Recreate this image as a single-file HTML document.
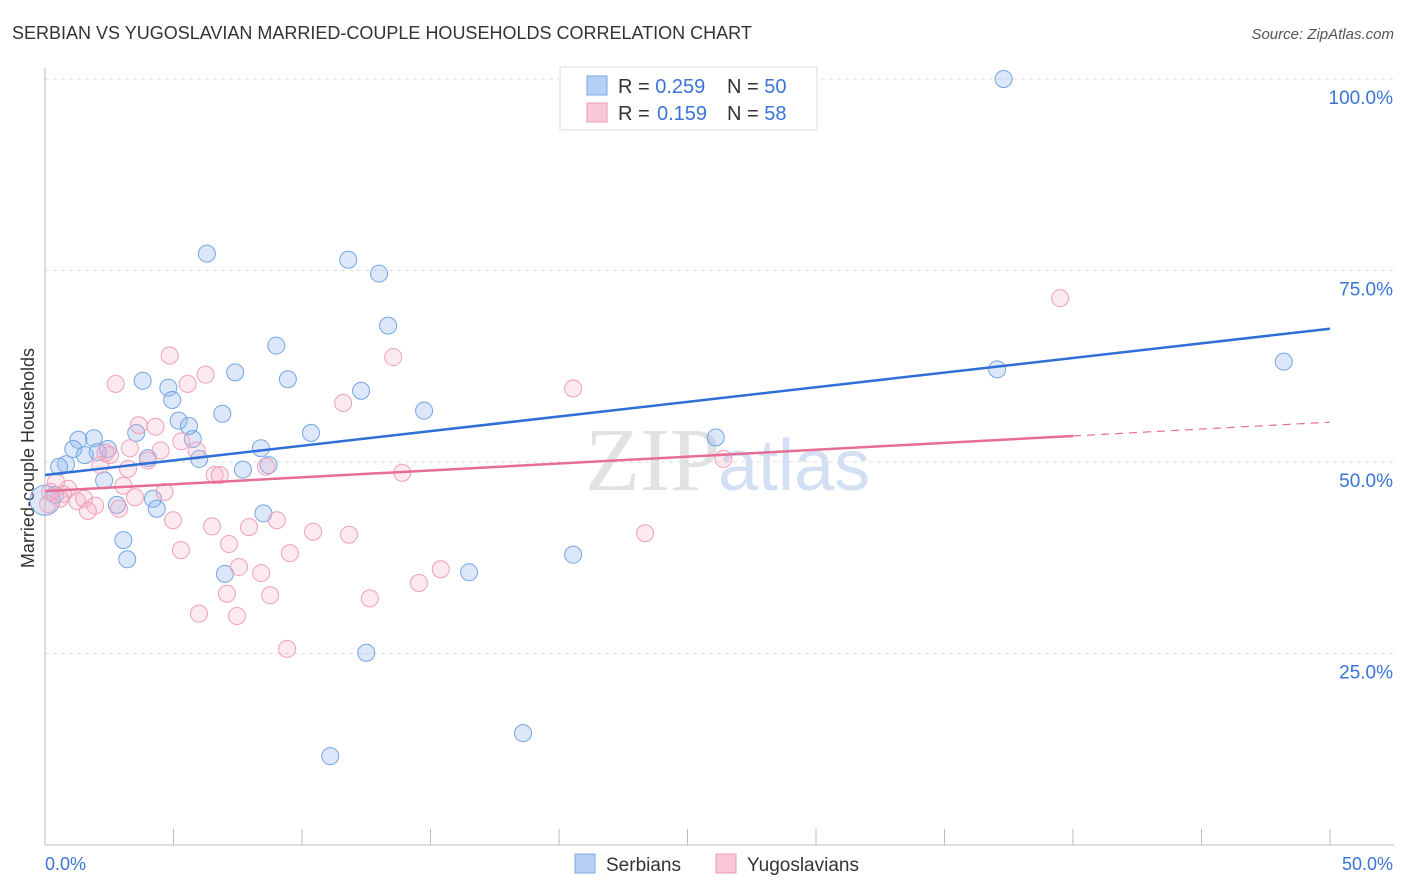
<!DOCTYPE html>
<html><head><meta charset="utf-8"><style>
body{margin:0;background:#fff;font-family:"Liberation Sans",sans-serif;}
svg{display:block}
</style></head><body>
<svg id="chart" width="1406" height="892">
<text x="12" y="39" font-size="18" fill="#333">SERBIAN VS YUGOSLAVIAN MARRIED-COUPLE HOUSEHOLDS CORRELATION CHART</text>
<text x="1394" y="39" font-size="15" fill="#555" font-style="italic" text-anchor="end">Source: ZipAtlas.com</text>
<text x="34" y="458" font-size="18" fill="#333" transform="rotate(-90 34 458)" text-anchor="middle">Married-couple Households</text>
<text x="720" y="490" font-size="90" fill="#e2e2e2" font-family="Liberation Serif,serif" text-anchor="end">ZIP</text>
<text x="718" y="490" font-size="72" fill="#d3e0f3">atlas</text>
<g id="grid"></g><g id="axes"></g><g id="pts"></g><g id="trends"></g>
<g>
<rect x="560" y="67" width="257" height="63" fill="#fff" stroke="#ddd"/>
<rect x="587" y="76" width="20" height="19" fill="#b6d0f5" stroke="#7aa7e6"/>
<rect x="587" y="103" width="20" height="19" fill="#f9c8d7" stroke="#ef98b3"/>
<text x="618" y="93" font-size="20" fill="#333">R = <tspan fill="#3a74d6">0.259</tspan><tspan x="727">N = </tspan><tspan fill="#3a74d6">50</tspan></text>
<text x="618" y="120" font-size="20" fill="#333">R = <tspan x="657" fill="#3a74d6">0.159</tspan><tspan x="727">N = </tspan><tspan fill="#3a74d6">58</tspan></text>
</g>
<g>
<rect x="575" y="854" width="20" height="19" fill="#b6d0f5" stroke="#7aa7e6"/>
<text x="606" y="871" font-size="19" fill="#333">Serbians</text>
<rect x="716" y="854" width="20" height="19" fill="#f9c8d7" stroke="#ef98b3"/>
<text x="747" y="871" font-size="19" fill="#333">Yugoslavians</text>
</g>
</svg>
<script>
const yTicks=[25,50,75,100];
const yTickLabels=["25.0%","50.0%","75.0%","100.0%"];
const xTickLabels=["0.0%","50.0%"];
const serbX=[37.3,6.3,11.8,13,13.35,9.0,7.4,9.45,3.8,4.8,12.3,4.95,6.9,14.75,5.2,5.6,3.55,1.9,1.3,5.75,2.45,1.1,2.05,1.55,8.4,4.0,6.0,0.82,0.55,7.7,8.7,10.35,26.1,2.3,4.2,2.8,4.35,8.5,0.4,3.05,3.2,7.0,20.55,16.5,12.5,18.6,11.1,37.05,48.2,0];
const serbY=[100,77.2,76.4,74.6,67.8,65.2,61.7,60.8,60.6,59.7,59.3,58.1,56.3,56.7,55.4,54.7,53.8,53.1,52.9,53.0,51.7,51.7,51.3,50.9,51.8,50.5,50.4,49.7,49.4,49.0,49.6,53.8,53.2,47.6,45.2,44.4,43.9,43.3,45.7,39.8,37.3,35.4,37.9,35.6,25.1,14.6,11.6,62.1,63.1,45.0];
const yugoX=[39.5,4.85,13.55,6.25,2.75,5.55,20.55,11.6,3.65,4.3,5.3,3.3,5.9,4.5,2.35,4.0,2.15,8.6,3.23,6.6,6.8,13.9,26.4,3.05,0.9,4.65,0.7,3.5,1.52,1.25,1.95,1.67,2.88,4.98,9.02,6.5,7.94,10.43,11.83,23.35,5.29,7.16,9.53,7.55,15.4,8.41,12.64,14.55,8.76,7.08,5.99,7.47,9.42,0.43,0.58,0.12,0.2,2.53];
const yugoY=[71.4,63.9,63.7,61.4,60.2,60.2,59.6,57.7,54.8,54.6,52.7,51.8,51.5,51.5,51.2,50.2,49.6,49.4,49.1,48.3,48.3,48.6,50.4,46.9,46.5,46.1,45.8,45.4,45.2,44.9,44.3,43.6,43.9,42.4,42.4,41.6,41.5,40.9,40.5,40.7,38.5,39.3,38.1,36.3,36.0,35.5,32.2,34.2,32.6,32.8,30.2,29.9,25.6,47.4,45.2,44.5,46.1,50.9];
const serbTrend=[48.3,67.4];
const yugoTrend=[46.2,55.2];
const yugoSolidEnd=40;
const X=v=>45+v*25.7, Y=v=>845-v*7.66;
const NS='http://www.w3.org/2000/svg';
function mk(t,a,p){const e=document.createElementNS(NS,t);for(const k in a)e.setAttribute(k,a[k]);p.appendChild(e);return e;}
const grid=document.getElementById('grid'),axes=document.getElementById('axes');
yTicks.forEach((t,i)=>{
 const l=mk('line',{x1:45,x2:1394,y1:Y(t),y2:Y(t),stroke:'#ddd','stroke-dasharray':'4,4'},grid);
 
 
 const tx=mk('text',{x:1393,y:Y(t)+25,'font-size':19,fill:'#3a74d6','text-anchor':'end'},axes);tx.textContent=yTickLabels[i];
 
 
});
mk('line',{x1:45,x2:45,y1:68,y2:845,stroke:'#bbb'},axes);
mk('line',{x1:45,x2:1394,y1:845,y2:845,stroke:'#bbb'},axes);
for(let i=0;i<=10;i++){mk('line',{x1:X(i*5),x2:X(i*5),y1:829,y2:845,stroke:'#bbb'},axes);}
[[0,'start',45],[50,'end',1393]].forEach((d,i)=>{const t=mk('text',{x:d[2],y:870,'font-size':18,fill:'#3a74d6','text-anchor':d[1]},axes);t.textContent=xTickLabels[i];
 
 });
const pts=document.getElementById('pts');
serbX.forEach((x,i)=>{const c=mk('circle',{cx:X(x),cy:Y(serbY[i]),r:i==serbX.length-1?15:8.5,fill:'rgba(140,180,236,0.3)',stroke:'#74a5e6','stroke-width':1},pts);
 
 });
yugoX.forEach((x,i)=>{const c=mk('circle',{cx:X(x),cy:Y(yugoY[i]),r:8.5,fill:'rgba(246,170,196,0.25)',stroke:'#f0a0b9','stroke-width':1},pts);
 
 });
const tr=document.getElementById('trends');
const b=mk('line',{x1:X(0),y1:Y(serbTrend[0]),x2:X(50),y2:Y(serbTrend[1]),stroke:'#2f6fd6','stroke-width':2.5},tr);


const ym=yugoTrend[0]+(yugoTrend[1]-yugoTrend[0])*yugoSolidEnd/50;
const p1=mk('line',{x1:X(0),y1:Y(yugoTrend[0]),x2:X(yugoSolidEnd),y2:Y(ym),stroke:'#e66d95','stroke-width':2.5},tr);


const p2=mk('line',{x1:X(yugoSolidEnd),y1:Y(ym),x2:X(50),y2:Y(yugoTrend[1]),stroke:'#e66d95','stroke-width':1.2,'stroke-dasharray':'8,6'},tr);


</script>
</body></html>
